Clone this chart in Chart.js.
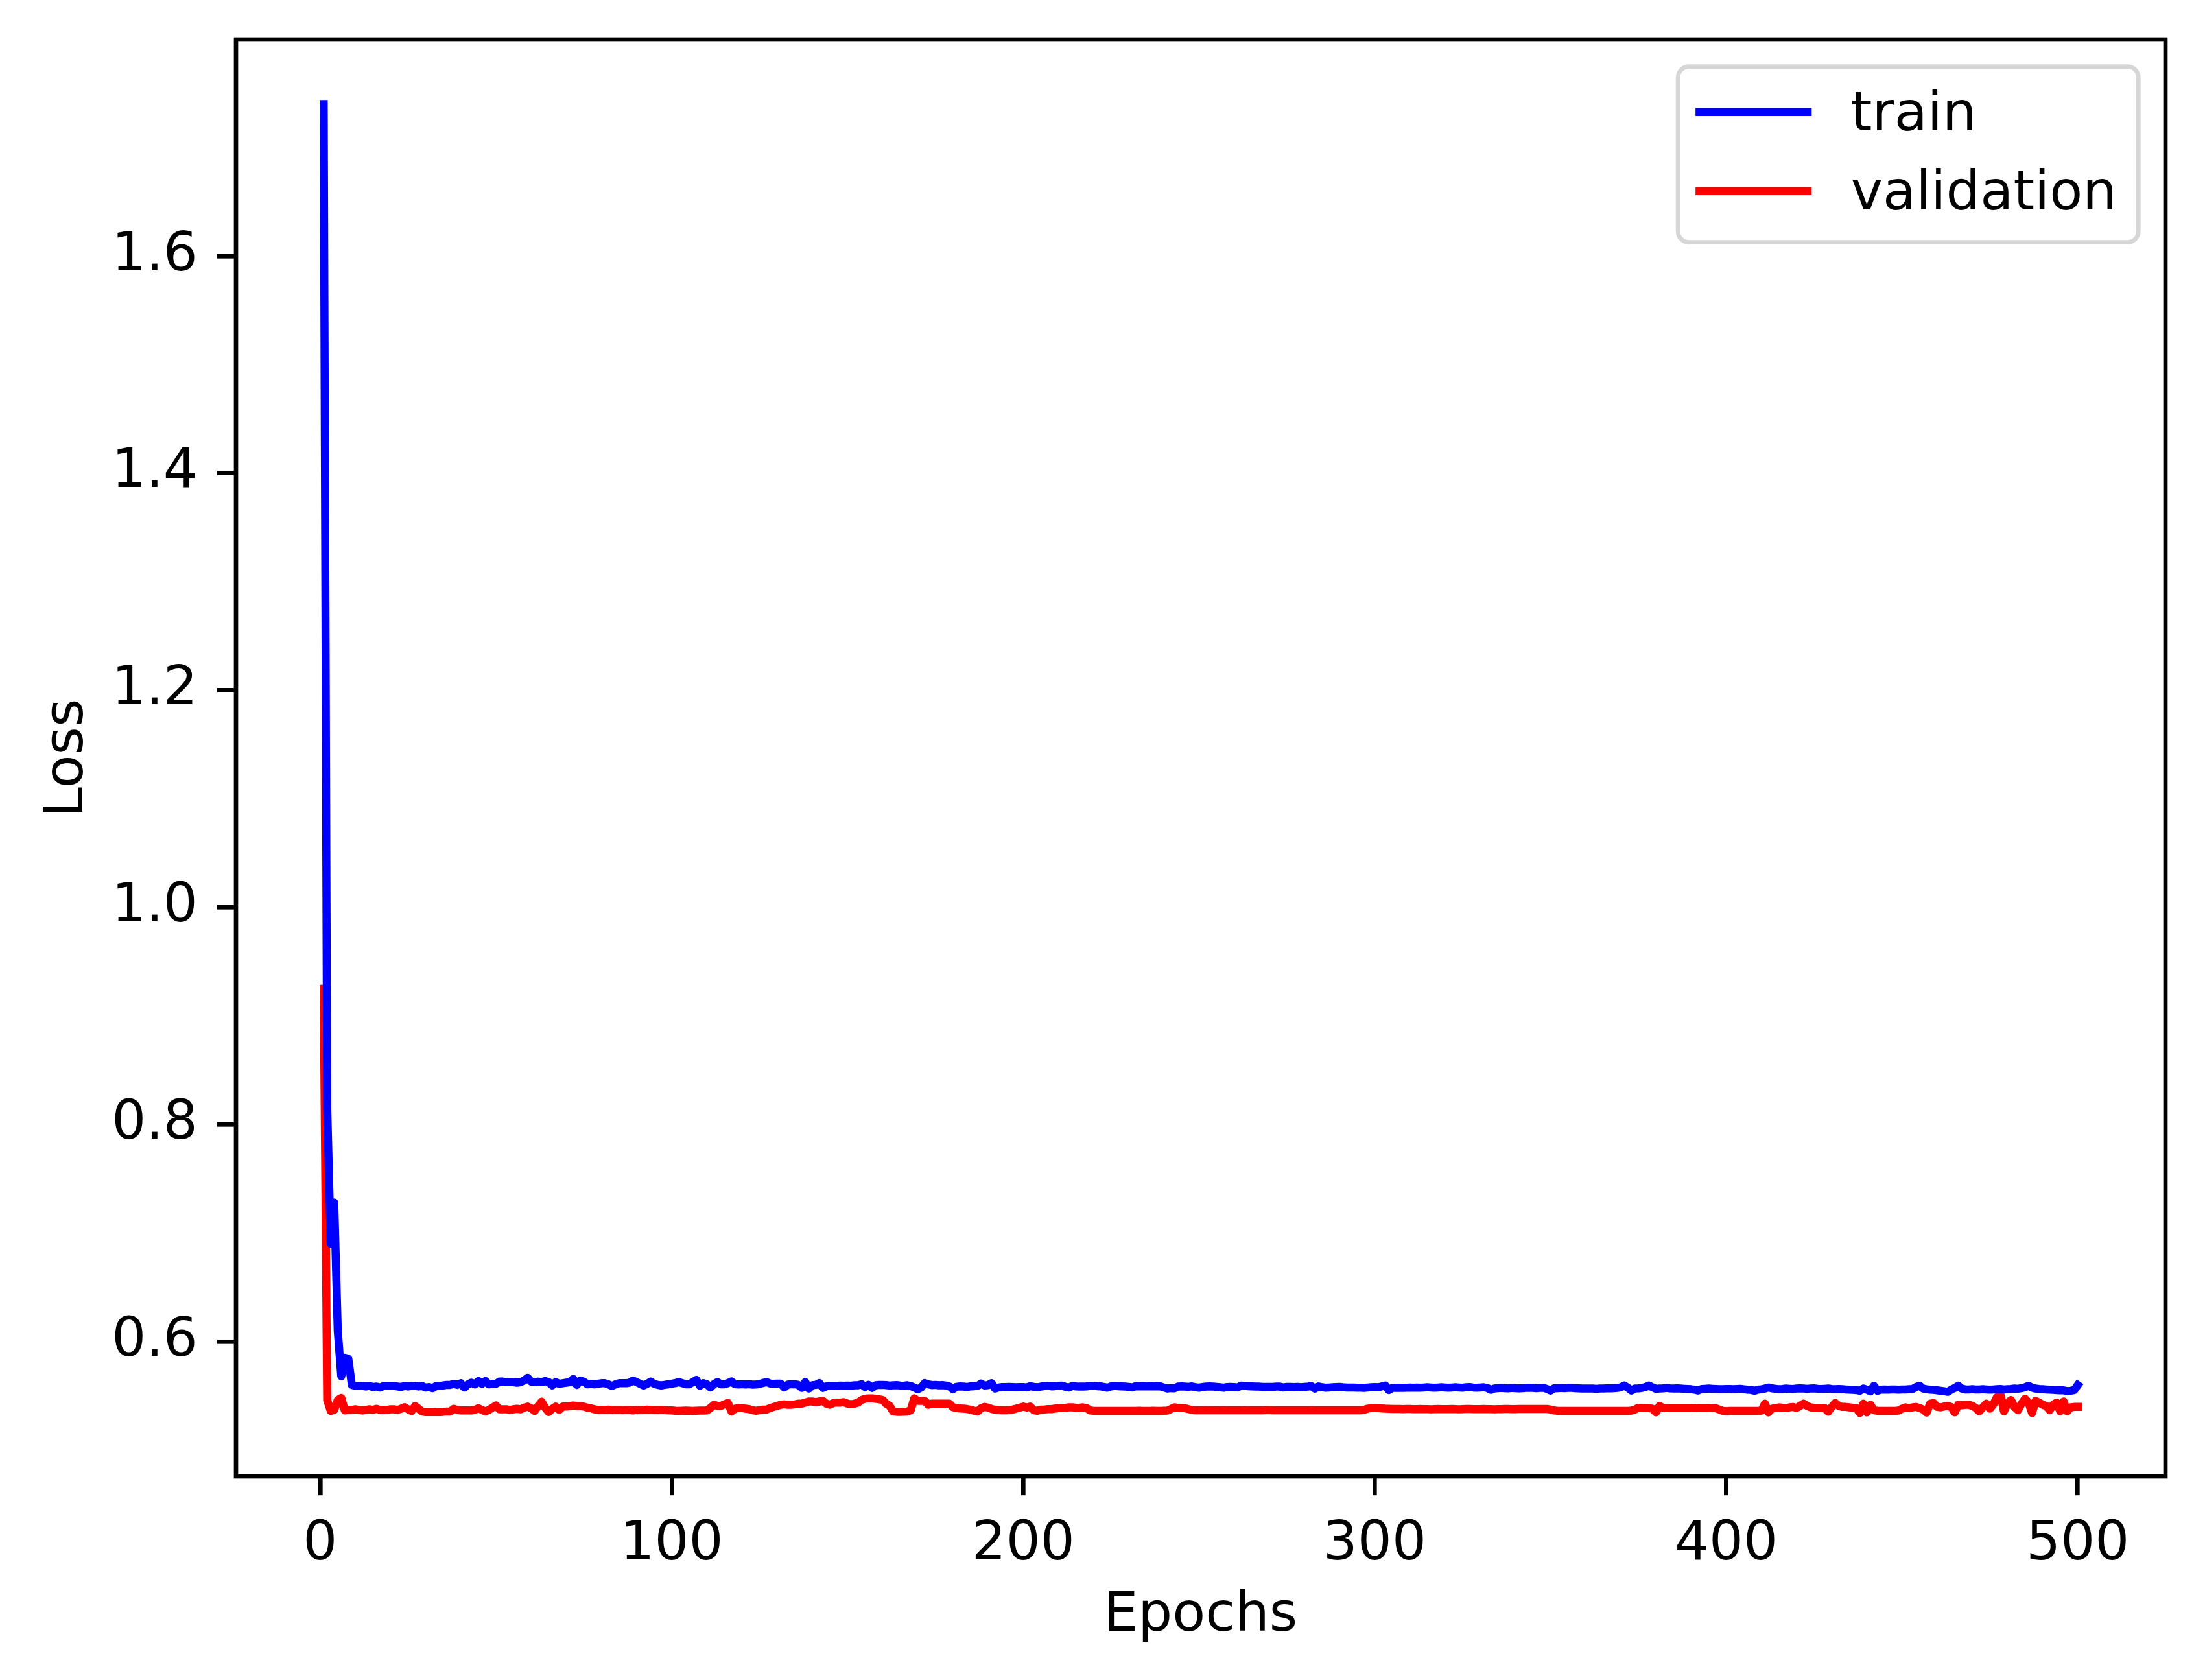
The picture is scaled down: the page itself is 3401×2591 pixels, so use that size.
<!DOCTYPE html>
<html>
<head>
<meta charset="utf-8">
<script src="https://cdn.jsdelivr.net/npm/chart.js@4.4.1/dist/chart.umd.min.js"></script>
<style>
  html, body { margin: 0; padding: 0; background: #ffffff; }
  canvas { display: block; }
</style>
</head>
<body>
<canvas id="c" width="3401" height="2591"></canvas>
<script>
// ---------------- data ----------------
const seriesNames = ['train', 'validation'];
const xTicks = [0, 100, 200, 300, 400, 500];
const yTicks = [0.6, 0.8, 1.0, 1.2, 1.4, 1.6];
const xLabel = 'Epochs';
const yLabel = 'Loss';

const trainLoss = [
1.740, 0.815, 0.690, 0.728, 0.610, 0.568, 0.585, 0.584, 0.560, 0.559,
0.559, 0.559, 0.5585, 0.559, 0.558, 0.5585, 0.5575, 0.559, 0.559, 0.559,
0.559, 0.5585, 0.558, 0.559, 0.5585, 0.559, 0.559, 0.5585, 0.559, 0.5575,
0.558, 0.557, 0.559, 0.559, 0.5595, 0.560, 0.560, 0.561, 0.560, 0.5615,
0.5575, 0.5605, 0.562, 0.5605, 0.5635, 0.561, 0.5635, 0.5605, 0.561, 0.561,
0.563, 0.563, 0.5625, 0.5625, 0.5625, 0.562, 0.5625, 0.564, 0.5665, 0.563,
0.5625, 0.563, 0.5625, 0.5635, 0.5625, 0.5595, 0.5625, 0.561, 0.5615, 0.562,
0.5625, 0.5655, 0.560, 0.564, 0.563, 0.5605, 0.561, 0.5605, 0.561, 0.5615,
0.5615, 0.5605, 0.559, 0.5605, 0.5615, 0.5615, 0.5615, 0.562, 0.564, 0.5625,
0.561, 0.5595, 0.561, 0.563, 0.561, 0.560, 0.5595, 0.560, 0.5605, 0.561,
0.5616, 0.5626, 0.5616, 0.5606, 0.5606, 0.5625, 0.5646, 0.5592, 0.5616, 0.5606,
0.5576, 0.5606, 0.5626, 0.5606, 0.5606, 0.5616, 0.5632, 0.5606, 0.5604, 0.5606,
0.5604, 0.5606, 0.5602, 0.5604, 0.5608, 0.5618, 0.5626, 0.5612, 0.561, 0.5612,
0.5612, 0.5576, 0.5602, 0.5606, 0.5606, 0.560, 0.5572, 0.5626, 0.5566, 0.5596,
0.560, 0.5616, 0.5572, 0.5586, 0.5592, 0.5592, 0.559, 0.5594, 0.5592, 0.5594,
0.5592, 0.5596, 0.5596, 0.5606, 0.558, 0.560, 0.5572, 0.5596, 0.560, 0.560,
0.5598, 0.5594, 0.5596, 0.5598, 0.5594, 0.5592, 0.5596, 0.559, 0.5576, 0.556,
0.5576, 0.5616, 0.5604, 0.5598, 0.560, 0.5596, 0.5598, 0.5594, 0.5586, 0.556,
0.5582, 0.5586, 0.5584, 0.558, 0.5586, 0.5588, 0.559, 0.5612, 0.5594, 0.5598,
0.5616, 0.5566, 0.5576, 0.558, 0.558, 0.5582, 0.558, 0.5578, 0.558, 0.558,
0.5576, 0.5588, 0.5582, 0.5578, 0.5584, 0.5588, 0.5592, 0.5586, 0.5588, 0.5592,
0.5594, 0.5582, 0.5576, 0.559, 0.5586, 0.5584, 0.5584, 0.5586, 0.559, 0.5592,
0.5588, 0.5586, 0.558, 0.5574, 0.5586, 0.559, 0.5588, 0.5586, 0.5584, 0.5582,
0.5576, 0.5588, 0.5586, 0.5588, 0.5586, 0.5588, 0.5586, 0.5588, 0.5586, 0.5576,
0.5566, 0.557, 0.5568, 0.5584, 0.5586, 0.5584, 0.5582, 0.5586, 0.5578, 0.5574,
0.558, 0.5584, 0.5586, 0.5584, 0.5582, 0.5578, 0.5574, 0.558, 0.5582, 0.558,
0.5576, 0.5594, 0.559, 0.5588, 0.5586, 0.5584, 0.5584, 0.5582, 0.5582, 0.5582,
0.5582, 0.5584, 0.5584, 0.5576, 0.5582, 0.5582, 0.558, 0.5582, 0.5578, 0.5582,
0.5584, 0.5588, 0.5566, 0.5586, 0.5578, 0.5574, 0.5576, 0.5578, 0.558, 0.5582,
0.5578, 0.5576, 0.5576, 0.5576, 0.5574, 0.5574, 0.5572, 0.5576, 0.5578, 0.558,
0.5578, 0.5586, 0.5594, 0.5552, 0.5572, 0.5572, 0.5574, 0.5572, 0.5574, 0.5576,
0.5574, 0.5576, 0.5574, 0.5576, 0.5578, 0.5576, 0.5574, 0.5576, 0.5578, 0.5576,
0.5574, 0.5576, 0.5578, 0.5576, 0.5574, 0.5578, 0.558, 0.5576, 0.5574, 0.5576,
0.5578, 0.5572, 0.5554, 0.5566, 0.557, 0.5572, 0.557, 0.5568, 0.5572, 0.557,
0.5568, 0.557, 0.5572, 0.5574, 0.5572, 0.557, 0.5572, 0.5574, 0.5562, 0.5548,
0.5568, 0.557, 0.5572, 0.557, 0.5572, 0.5572, 0.557, 0.5568, 0.5566, 0.5566,
0.5566, 0.5566, 0.5564, 0.5566, 0.5566, 0.5568, 0.5568, 0.557, 0.5572, 0.5578,
0.5594, 0.5574, 0.5548, 0.5566, 0.5568, 0.5572, 0.558, 0.5594, 0.5578, 0.5564,
0.5566, 0.5568, 0.5572, 0.5568, 0.5566, 0.5568, 0.5566, 0.5564, 0.5562, 0.556,
0.5556, 0.5548, 0.5562, 0.5564, 0.5566, 0.5564, 0.5562, 0.556, 0.556, 0.5562,
0.5562, 0.556, 0.5562, 0.5564, 0.556, 0.5556, 0.5554, 0.5546, 0.5556, 0.556,
0.5566, 0.5576, 0.5568, 0.5564, 0.556, 0.5562, 0.5566, 0.5564, 0.5562, 0.5566,
0.5568, 0.5566, 0.5564, 0.5566, 0.5568, 0.5564, 0.5562, 0.5564, 0.5566, 0.5562,
0.556, 0.5562, 0.556, 0.5558, 0.5556, 0.5554, 0.5552, 0.5546, 0.5566, 0.5556,
0.554, 0.5592, 0.5546, 0.5556, 0.5558, 0.5556, 0.5558, 0.5558, 0.5556, 0.5558,
0.5558, 0.556, 0.5562, 0.558, 0.5592, 0.5566, 0.556, 0.5556, 0.5554, 0.555,
0.5546, 0.5542, 0.5536, 0.5556, 0.5572, 0.5592, 0.5566, 0.5558, 0.5558, 0.556,
0.5558, 0.5558, 0.556, 0.5558, 0.5556, 0.5558, 0.556, 0.5562, 0.5558, 0.556,
0.5562, 0.5566, 0.5564, 0.557, 0.5578, 0.5592, 0.5574, 0.5566, 0.5562, 0.556,
0.5558, 0.5556, 0.5554, 0.5552, 0.555, 0.555, 0.5542, 0.5546, 0.5552, 0.5598
];

const valLoss = [
0.925, 0.546, 0.536, 0.537, 0.546, 0.548, 0.5365, 0.537, 0.537, 0.5375,
0.537, 0.5365, 0.537, 0.5375, 0.537, 0.538, 0.537, 0.537, 0.537, 0.5375,
0.5375, 0.537, 0.538, 0.5395, 0.5375, 0.536, 0.5405, 0.538, 0.5355, 0.535,
0.535, 0.535, 0.5352, 0.535, 0.5352, 0.5355, 0.5355, 0.538, 0.537, 0.5365,
0.5365, 0.5365, 0.5365, 0.537, 0.5385, 0.537, 0.5355, 0.537, 0.539, 0.541,
0.5375, 0.5375, 0.5375, 0.537, 0.5375, 0.538, 0.5375, 0.539, 0.540, 0.5385,
0.536, 0.5405, 0.5445, 0.539, 0.535, 0.538, 0.540, 0.537, 0.540, 0.540,
0.5405, 0.541, 0.5405, 0.5405, 0.540, 0.539, 0.5385, 0.5375, 0.537, 0.537,
0.537, 0.5372, 0.5368, 0.537, 0.537, 0.5368, 0.537, 0.537, 0.5365, 0.537,
0.5368, 0.537, 0.5372, 0.537, 0.5368, 0.537, 0.537, 0.5368, 0.5366, 0.5365,
0.5362, 0.5361, 0.5362, 0.5363, 0.5362, 0.5361, 0.5362, 0.5363, 0.5363, 0.5365,
0.5387, 0.5417, 0.5407, 0.5407, 0.5421, 0.5433, 0.5355, 0.5381, 0.5387, 0.5387,
0.5381, 0.5377, 0.5367, 0.5361, 0.5367, 0.5373, 0.5373, 0.5387, 0.5397, 0.5407,
0.5417, 0.5421, 0.5417, 0.5417, 0.5421, 0.5427, 0.5427, 0.5437, 0.5447, 0.5447,
0.5441, 0.5447, 0.5453, 0.5427, 0.5417, 0.5433, 0.5437, 0.5437, 0.5441, 0.5427,
0.5421, 0.5427, 0.5437, 0.5461, 0.5472, 0.5476, 0.5476, 0.5472, 0.5467, 0.5461,
0.5427, 0.5407, 0.5355, 0.5352, 0.5352, 0.5353, 0.5354, 0.5367, 0.5476, 0.5453,
0.5453, 0.5453, 0.5417, 0.5427, 0.5427, 0.5427, 0.5427, 0.5427, 0.5427, 0.5395,
0.5385, 0.5383, 0.5381, 0.5378, 0.5372, 0.5362, 0.5355, 0.5385, 0.5397, 0.5391,
0.5378, 0.5372, 0.5368, 0.5367, 0.5367, 0.5368, 0.5373, 0.5381, 0.539, 0.540,
0.5392, 0.540, 0.5367, 0.5361, 0.5373, 0.5373, 0.5377, 0.5377, 0.5381, 0.5385,
0.5387, 0.5389, 0.5393, 0.5393, 0.5389, 0.5389, 0.5393, 0.5387, 0.5365, 0.5361,
0.5361, 0.5361, 0.536, 0.5361, 0.5361, 0.536, 0.5361, 0.5361, 0.5361, 0.536,
0.5361, 0.5361, 0.5362, 0.5361, 0.5361, 0.5361, 0.5362, 0.5361, 0.5361, 0.5362,
0.5363, 0.5377, 0.5393, 0.5389, 0.5389, 0.5385, 0.5377, 0.5369, 0.5367, 0.5367,
0.5367, 0.5368, 0.5367, 0.5366, 0.5367, 0.5367, 0.5368, 0.5367, 0.5366, 0.5367,
0.5367, 0.5367, 0.5368, 0.5367, 0.5367, 0.5366, 0.5367, 0.5367, 0.5368, 0.5368,
0.5367, 0.5367, 0.5366, 0.5366, 0.5367, 0.5367, 0.5367, 0.5366, 0.5366, 0.5367,
0.5367, 0.5368, 0.5367, 0.5367, 0.5366, 0.5366, 0.5367, 0.5367, 0.5366, 0.5366,
0.5366, 0.5366, 0.5367, 0.5367, 0.5366, 0.5367, 0.5371, 0.5381, 0.5387, 0.5387,
0.5385, 0.5383, 0.5381, 0.538, 0.5379, 0.5378, 0.5378, 0.5377, 0.5378, 0.5378,
0.5377, 0.5377, 0.5378, 0.5377, 0.5377, 0.5376, 0.5377, 0.5378, 0.5377, 0.5377,
0.5377, 0.5378, 0.5377, 0.5376, 0.5377, 0.5378, 0.5378, 0.5377, 0.5377, 0.5377,
0.5378, 0.5377, 0.5377, 0.5376, 0.5377, 0.5377, 0.5378, 0.5378, 0.5377, 0.5377,
0.5378, 0.5378, 0.5379, 0.5379, 0.5379, 0.5378, 0.5378, 0.5379, 0.5378, 0.5373,
0.5365, 0.5361, 0.5361, 0.536, 0.5361, 0.5361, 0.5361, 0.536, 0.536, 0.5361,
0.5361, 0.5361, 0.5361, 0.536, 0.5361, 0.5361, 0.5361, 0.5361, 0.536, 0.5361,
0.5361, 0.5361, 0.5363, 0.5373, 0.5389, 0.5389, 0.5387, 0.5387, 0.5381, 0.5347,
0.5407, 0.5389, 0.5387, 0.5387, 0.5388, 0.5387, 0.5387, 0.5388, 0.5387, 0.5387,
0.5386, 0.5387, 0.5388, 0.5387, 0.5387, 0.5386, 0.5385, 0.5373, 0.5361, 0.5357,
0.5361, 0.5361, 0.5361, 0.536, 0.5361, 0.5361, 0.5361, 0.536, 0.5361, 0.5363,
0.5427, 0.5347, 0.5381, 0.5387, 0.5393, 0.5389, 0.5387, 0.5393, 0.5397, 0.5387,
0.5407, 0.5427, 0.5407, 0.5393, 0.5389, 0.5389, 0.5389, 0.5387, 0.5353, 0.5397,
0.5433, 0.5407, 0.5397, 0.5397, 0.5393, 0.5389, 0.5387, 0.5341, 0.5427, 0.5347,
0.5417, 0.5367, 0.5361, 0.5361, 0.5361, 0.5361, 0.5361, 0.5361, 0.5363, 0.5381,
0.5393, 0.5387, 0.5393, 0.5397, 0.5387, 0.5373, 0.5345, 0.5427, 0.5433, 0.5397,
0.5393, 0.5401, 0.5407, 0.5397, 0.5347, 0.5417, 0.5413, 0.5417, 0.5417, 0.5407,
0.5387, 0.5357, 0.5393, 0.5427, 0.5381, 0.5421, 0.5486, 0.5516, 0.5357, 0.5427,
0.5461, 0.5397, 0.5367, 0.5427, 0.5472, 0.5437, 0.5341, 0.5453, 0.5437, 0.5417,
0.5407, 0.5367, 0.5417, 0.5437, 0.5357, 0.5447, 0.5357, 0.5393, 0.5397, 0.5397
];

const epochs = trainLoss.map((_, i) => i + 1);

// ---------------- style ----------------
const FS = 83.33;                 // 10pt at 600 dpi
const FONT = 'DejaVu Sans';
const LW = 12.5;                  // 1.5pt
const SPINE = 6.67;               // 0.8pt
const TICKLEN = 29.17;            // 3.5pt

const framePlugin = {
  id: 'frame',
  beforeDraw(chart) {
    const ctx = chart.ctx;
    ctx.save();
    ctx.fillStyle = '#ffffff';
    ctx.fillRect(0, 0, chart.width, chart.height);
    ctx.restore();
  },
  afterDatasetsDraw(chart) {
    const {ctx, chartArea: a} = chart;
    ctx.save();
    // spines
    ctx.strokeStyle = '#000000';
    ctx.lineWidth = SPINE;
    ctx.lineJoin = 'miter';
    ctx.strokeRect(a.left, a.top, a.right - a.left, a.bottom - a.top);

    // legend (matplotlib-like, upper right)
    const dsets = chart.data.datasets;
    ctx.font = FS + 'px "' + FONT + '"';
    let maxW = 0;
    dsets.forEach(d => { maxW = Math.max(maxW, ctx.measureText(d.label).width); });
    const boxW = 0.8 * FS + 2.0 * FS + 0.8 * FS + maxW;
    const boxH = 271;
    const right = a.right - 0.5 * FS;
    const top = a.top + 0.5 * FS;
    const left = right - boxW;
    const r = 17;
    ctx.beginPath();
    ctx.moveTo(left + r, top);
    ctx.lineTo(right - r, top);
    ctx.arcTo(right, top, right, top + r, r);
    ctx.lineTo(right, top + boxH - r);
    ctx.arcTo(right, top + boxH, right - r, top + boxH, r);
    ctx.lineTo(left + r, top + boxH);
    ctx.arcTo(left, top + boxH, left, top + boxH - r, r);
    ctx.lineTo(left, top + r);
    ctx.arcTo(left, top, left + r, top, r);
    ctx.closePath();
    ctx.fillStyle = 'rgba(255,255,255,0.8)';
    ctx.fill();
    ctx.lineWidth = SPINE;
    ctx.strokeStyle = 'rgba(204,204,204,0.8)';
    ctx.stroke();

    const lineOff = [70, 192];
    dsets.forEach((d, i) => {
      const ly = top + lineOff[i];
      const lx0 = left + 0.4 * FS;
      const lx1 = lx0 + 2.0 * FS;
      ctx.beginPath();
      ctx.moveTo(lx0, ly);
      ctx.lineTo(lx1, ly);
      ctx.lineWidth = LW;
      ctx.lineCap = 'square';
      ctx.strokeStyle = d.borderColor;
      ctx.stroke();
      ctx.fillStyle = '#000000';
      ctx.textAlign = 'left';
      ctx.textBaseline = 'alphabetic';
      ctx.fillText(d.label, lx1 + 0.8 * FS, ly + 28);
    });
    ctx.restore();
  }
};

const ctx = document.getElementById('c').getContext('2d');
new Chart(ctx, {
  type: 'line',
  data: {
    datasets: [
      {
        label: seriesNames[0],
        data: trainLoss.map((v, i) => ({x: epochs[i], y: v})),
        borderColor: '#0000ff',
        borderWidth: LW,
        pointRadius: 0,
        tension: 0,
        fill: false,
        borderCapStyle: 'square',
        borderJoinStyle: 'round'
      },
      {
        label: seriesNames[1],
        data: valLoss.map((v, i) => ({x: epochs[i], y: v})),
        borderColor: '#ff0000',
        borderWidth: LW,
        pointRadius: 0,
        tension: 0,
        fill: false,
        borderCapStyle: 'square',
        borderJoinStyle: 'round'
      }
    ]
  },
  options: {
    responsive: false,
    animation: false,
    devicePixelRatio: 1,
    events: [],
    layout: { padding: { top: 61, right: 61, left: 0, bottom: 0 } },
    plugins: {
      legend: { display: false },
      tooltip: { enabled: false }
    },
    scales: {
      x: {
        type: 'linear',
        min: -23.95,
        max: 524.95,
        afterBuildTicks: s => { s.ticks = xTicks.map(v => ({value: v})); },
        afterFit: s => { s.height = 314; s.paddingLeft = 0; s.paddingRight = 0; },
        grid: { drawOnChartArea: false, drawTicks: true, tickLength: TICKLEN, tickWidth: SPINE, tickColor: '#000000', lineWidth: SPINE, color: '#000000' },
        border: { display: false },
        ticks: {
          autoSkip: false, maxRotation: 0, minRotation: 0,
          padding: 27,
          color: '#000000',
          font: { family: FONT, size: FS },
          callback: v => String(v)
        },
        title: {
          display: true, text: xLabel, color: '#000000',
          font: { family: FONT, size: FS },
          padding: { top: 0, bottom: 48 }
        }
      },
      y: {
        type: 'linear',
        min: 0.4757,
        max: 1.7995,
        afterBuildTicks: s => { s.ticks = yTicks.map(v => ({value: v})); },
        afterFit: s => { s.width = 364; s.paddingTop = 0; s.paddingBottom = 0; },
        grid: { drawOnChartArea: false, drawTicks: true, tickLength: TICKLEN, tickWidth: SPINE, tickColor: '#000000', lineWidth: SPINE, color: '#000000' },
        border: { display: false },
        ticks: {
          autoSkip: false,
          padding: 30,
          color: '#000000',
          font: { family: FONT, size: FS },
          callback: v => Number(v).toFixed(1)
        },
        title: {
          display: true, text: yLabel, color: '#000000',
          font: { family: FONT, size: FS },
          padding: { top: 55, bottom: 0 }
        }
      }
    }
  },
  plugins: [framePlugin]
});
</script>
</body>
</html>
